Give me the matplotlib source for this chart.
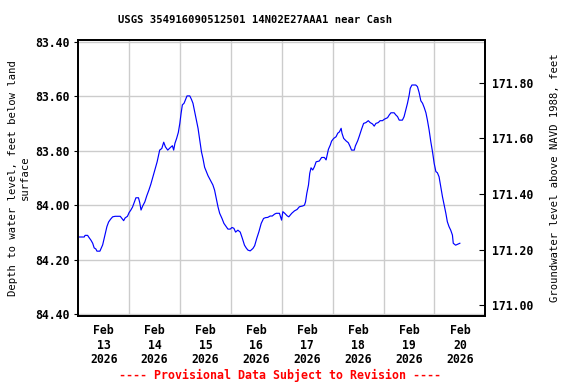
import numpy as np
import pandas as pd
import matplotlib
matplotlib.use("Agg")
import matplotlib.pyplot as plt
import matplotlib.dates as mdates

# hours after 2026-02-13 00:00 and depth to water (ft below land surface)
hours = [0.2, 2.8, 3.2, 4.4, 4.9, 6.0, 6.8, 7.5, 8.3, 8.8, 10.2, 10.7, 11.5, 12.2, 12.9,
         13.5, 14.3, 15.2, 16.2, 17.4, 19.8, 20.4, 21.4, 22.1, 23.2, 24.0, 24.8, 25.6, 26.8,
         27.2, 28.4, 29.0, 29.6, 30.4, 31.4, 32.3, 33.3, 34.2, 35.0, 36.1, 37.2, 37.8, 38.4,
         39.4, 40.3, 41.1, 42.2, 43.5, 44.4, 45.0, 45.6, 46.4, 47.2, 47.9, 48.5, 49.1, 49.9,
         50.5, 51.3, 52.6, 53.4, 54.1, 54.9, 55.7, 56.5, 57.3, 58.1, 58.8, 59.6, 60.4, 61.2,
         62.3, 63.5, 64.3, 65.1, 65.9, 66.7, 67.8, 68.7, 69.8, 70.6, 71.7, 72.5, 73.4, 74.2,
         75.3, 76.4, 77.4, 78.4, 79.2, 80.0, 81.1, 82.4, 83.2, 84.2, 85.2, 86.3, 87.4, 88.3,
         89.4, 90.5, 91.5, 92.6, 93.4, 94.9, 95.9, 96.5, 97.4, 98.5, 99.3, 100.7, 102.0, 103.2,
         104.3, 105.9, 106.7, 107.2, 107.8, 108.6, 109.2, 109.8, 110.6, 111.4, 112.2, 113.7,
         114.8, 116.1, 116.9, 117.4, 118.0, 118.9, 119.5, 120.5, 121.6, 122.4, 123.2, 124.0,
         124.4, 125.2, 126.3, 127.4, 128.3, 128.9, 130.2, 130.7, 131.8, 132.6, 133.6, 134.6,
         135.7, 136.8, 137.7, 138.8, 139.6, 140.4, 141.5, 142.4, 143.5, 144.3, 145.9, 146.7,
         147.5, 149.0, 149.8, 150.6, 151.4, 152.9, 153.7, 154.5, 155.3, 156.1, 156.6, 157.4,
         159.2, 160.0, 160.8, 161.6, 162.4, 163.2, 164.0, 164.7, 165.5, 166.3, 167.1, 167.9,
         168.7, 169.4, 170.2, 171.0, 171.8, 172.6, 173.4, 174.1, 174.9, 175.7, 176.5, 176.9,
         178.0, 179.1, 180.0]
depth = [84.117, 84.117, 84.111, 84.111, 84.117, 84.129, 84.140, 84.157, 84.161, 84.169,
         84.169, 84.160, 84.146, 84.123, 84.100, 84.079, 84.062, 84.052, 84.043, 84.041,
         84.041, 84.047, 84.057, 84.047, 84.041, 84.027, 84.018, 84.007, 83.981, 83.973,
         83.973, 83.991, 84.018, 84.003, 83.988, 83.966, 83.945, 83.924, 83.902, 83.871,
         83.841, 83.820, 83.798, 83.792, 83.769, 83.786, 83.798, 83.788, 83.782, 83.798,
         83.773, 83.755, 83.733, 83.700, 83.663, 83.632, 83.626, 83.614, 83.599, 83.599,
         83.612, 83.626, 83.657, 83.688, 83.718, 83.761, 83.804, 83.828, 83.861, 83.877,
         83.892, 83.908, 83.926, 83.945, 83.975, 84.006, 84.030, 84.049, 84.067, 84.079,
         84.088, 84.088, 84.082, 84.085, 84.099, 84.092, 84.099, 84.122, 84.147, 84.157,
         84.165, 84.168, 84.159, 84.149, 84.122, 84.098, 84.067, 84.049, 84.046, 84.045,
         84.040, 84.040, 84.033, 84.030, 84.030, 84.055, 84.024, 84.030, 84.039, 84.043,
         84.030, 84.021, 84.016, 84.006, 84.003, 84.000, 83.988, 83.957, 83.926, 83.883,
         83.863, 83.871, 83.859, 83.841, 83.838, 83.825, 83.825, 83.834, 83.816, 83.795,
         83.779, 83.765, 83.755, 83.749, 83.736, 83.731, 83.718, 83.736, 83.755, 83.764,
         83.771, 83.786, 83.798, 83.798, 83.783, 83.764, 83.746, 83.722, 83.700, 83.697,
         83.690, 83.697, 83.702, 83.710, 83.700, 83.697, 83.690, 83.690, 83.685, 83.679,
         83.669, 83.661, 83.661, 83.669, 83.675, 83.688, 83.688, 83.675, 83.651, 83.626,
         83.596, 83.571, 83.559, 83.559, 83.565, 83.587, 83.617, 83.626, 83.642, 83.661,
         83.688, 83.724, 83.767, 83.804, 83.847, 83.877, 83.881, 83.896, 83.933, 83.969,
         84.000, 84.030, 84.061, 84.079, 84.092, 84.110, 84.140, 84.147, 84.143, 84.140]

left_ticks = [83.40, 83.60, 83.80, 84.00, 84.20, 84.40]
right_ticks = [171.00, 171.20, 171.40, 171.60, 171.80]
title = "USGS 354916090512501 14N02E27AAA1 near Cash"
start = pd.Timestamp("2026-02-13")

times = start + pd.to_timedelta(hours, unit="h")

plt.rcParams['font.family'] = ['DejaVu Sans Mono']
plt.rcParams['font.weight'] = 'bold'
fs = 7.6     # title / axis labels
tfs = 8.3    # tick labels

fig = plt.figure(figsize=(5.76, 3.84), dpi=100)
ax = fig.add_axes([0.1359, 0.1771, 0.7066, 0.7200])

ax.plot(times, depth, color='#0000ff', linewidth=0.85)

ax.set_xlim(start, start + pd.Timedelta(days=8))
ax.set_ylim(84.407, 83.392)

# labels at noon, grid at midnight
ax.set_xticks([start + pd.Timedelta(days=i, hours=12) for i in range(8)])
ax.xaxis.set_major_formatter(mdates.DateFormatter('%b\n%d\n%Y'))
ax.set_xticks([start + pd.Timedelta(days=i) for i in range(1, 8)], minor=True)
ax.tick_params(axis='x', which='both', length=0, pad=6, labelsize=tfs)
for lab in ax.get_xticklabels():
    lab.set_linespacing(1.15)
ax.grid(True, which='minor', axis='x', color='#cccccc', linewidth=1.0)

ax.set_yticks(left_ticks)
ax.set_yticklabels([f"{v:.2f}" for v in left_ticks])
ax.tick_params(axis='y', direction='out', length=3, width=0.8, pad=3, labelsize=tfs)
ax.grid(True, which='major', axis='y', color='#cccccc', linewidth=1.0)
ax.set_axisbelow(True)
ax.set_ylabel("Depth to water level, feet below land\nsurface", fontsize=fs, labelpad=4,
              linespacing=1.2)

ax2 = ax.twinx()
ax2.set_ylim(170.9615, 171.955)
ax2.set_yticks(right_ticks)
ax2.set_yticklabels([f"{v:.2f}" for v in right_ticks])
ax2.tick_params(axis='y', direction='in', length=4, width=0.8, pad=5, labelsize=tfs)
ax2.set_ylabel("Groundwater level above NAVD 1988, feet", fontsize=fs, labelpad=12)

for a in (ax, ax2):
    for s in a.spines.values():
        s.set_linewidth(1.3)
        s.set_color('black')

fig.text(255 / 576, 1 - 20 / 384, title, ha='center', va='center', fontsize=fs)
fig.text(280 / 576, 1 - 375 / 384, "---- Provisional Data Subject to Revision ----",
         ha='center', va='center', fontsize=8.4, color='red')

fig.savefig("out.png", dpi=100)
